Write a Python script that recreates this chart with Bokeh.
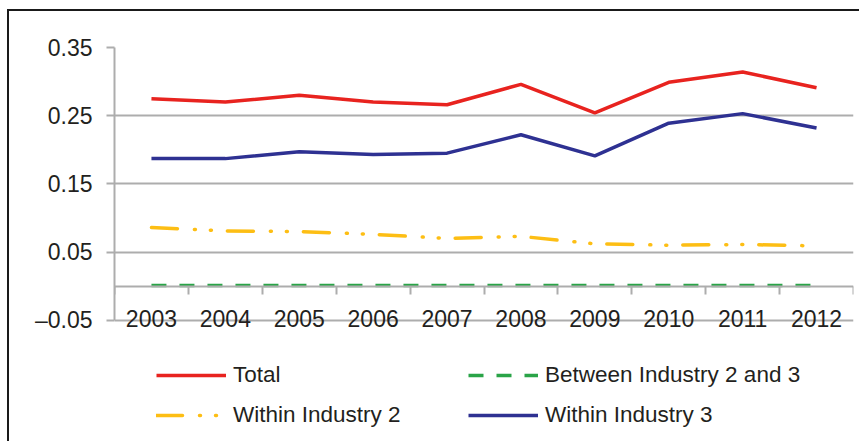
from bokeh.plotting import figure
from bokeh.models import (Range1d, LinearAxis, FixedTicker, Legend, LegendItem)
from bokeh.embed import file_html
from bokeh.resources import INLINE

years = [2003, 2004, 2005, 2006, 2007, 2008, 2009, 2010, 2011, 2012]
total = [0.275, 0.270, 0.280, 0.270, 0.266, 0.296, 0.254, 0.299, 0.314, 0.291]
between = [0.001, 0.001, 0.001, 0.001, 0.001, 0.001, 0.001, 0.001, 0.001, 0.001]
within2 = [0.086, 0.081, 0.080, 0.076, 0.070, 0.073, 0.062, 0.060, 0.061, 0.059]
within3 = [0.187, 0.187, 0.197, 0.193, 0.195, 0.222, 0.191, 0.239, 0.253, 0.232]
y_ticks = [-0.05, 0.05, 0.15, 0.25, 0.35]
y_labels = ["\u20130.05", "0.05", "0.15", "0.25", "0.35"]

FONT = "Liberation Sans"
TXT = "#231F20"
GRID = "#ADADAD"

# plot area extends below the axis so the legend lives inside the frame
PX_PER_UNIT = 680.0
EXTRA_BELOW = 123 / PX_PER_UNIT

p = figure(width=852, height=432, output_backend="svg", toolbar_location=None,
           x_axis_location=None,
           x_range=Range1d(years[0] - 0.5, years[-1] + 0.5),
           y_range=Range1d(y_ticks[0] - EXTRA_BELOW, y_ticks[-1]),
           min_border_left=105, min_border_right=8, min_border_top=36,
           min_border_bottom=0)
p.styles = {"border-top": "2px solid #1a1a1a", "border-left": "2px solid #1a1a1a",
            "margin-left": "7px", "margin-top": "9px"}
p.outline_line_color = None
p.background_fill_color = "white"
p.border_fill_color = "white"

yax = p.yaxis[0]
yax.ticker = FixedTicker(ticks=y_ticks)
yax.bounds = (y_ticks[0], y_ticks[-1])
yax.major_label_overrides = {t: l for t, l in zip(y_ticks, y_labels)}
yax.axis_line_color = GRID
yax.axis_line_width = 2
yax.major_tick_line_color = GRID
yax.major_tick_line_width = 2
yax.major_tick_out = 8
yax.major_tick_in = 0
yax.minor_tick_line_color = None
yax.major_label_text_font = FONT
yax.major_label_text_font_size = "23px"
yax.major_label_text_color = TXT
yax.major_label_standoff = 14

p.xgrid.visible = False
p.ygrid.ticker = FixedTicker(ticks=y_ticks)
p.ygrid.grid_line_color = GRID
p.ygrid.grid_line_width = 2

# x axis line at zero with ticks between categories
bounds = [y - 0.5 for y in years] + [years[-1] + 0.5]
ax0 = LinearAxis(fixed_location=0, ticker=FixedTicker(ticks=bounds))
ax0.axis_line_color = GRID
ax0.axis_line_width = 2
ax0.major_tick_line_color = GRID
ax0.major_tick_line_width = 2
ax0.major_tick_out = 8
ax0.major_tick_in = 0
ax0.minor_tick_line_color = None
ax0.major_label_text_alpha = 0
p.add_layout(ax0, "below")

# year labels
axl = LinearAxis(fixed_location=-0.0345, ticker=FixedTicker(ticks=years))
axl.axis_line_color = None
axl.major_tick_line_color = None
axl.major_tick_out = 0
axl.major_tick_in = 0
axl.minor_tick_line_color = None
axl.major_label_standoff = 0
axl.major_label_text_font = FONT
axl.major_label_text_font_size = "23px"
axl.major_label_text_color = TXT
axl.major_label_overrides = {y: str(y) for y in years}
p.add_layout(axl, "below")

LW = 3.5
r_total = p.line(years, total, line_color="#E8231F", line_width=LW)
r_between = p.line(years, between, line_color="#2AA448", line_width=LW, line_dash="15 13")
r_w2 = p.line(years, within2, line_color="#FDBE14", line_width=LW,
              line_dash="26 17 1 15 1 16", line_cap="round")
r_w3 = p.line(years, within3, line_color="#2E3192", line_width=LW)

def make_legend(items, x):
    lg = Legend(items=items, location=(x, 15), orientation="vertical")
    lg.background_fill_alpha = 0
    lg.border_line_color = None
    lg.padding = 0
    lg.margin = 0
    lg.spacing = 14
    lg.glyph_width = 70
    lg.glyph_height = 20
    lg.label_standoff = 7
    lg.label_text_font = FONT
    lg.label_text_font_size = "22.5px"
    lg.label_text_color = TXT
    return lg

p.add_layout(make_legend([LegendItem(label="Total", renderers=[r_total]),
                          LegendItem(label="Within Industry 2", renderers=[r_w2])], 42), "center")
p.add_layout(make_legend([LegendItem(label="Between Industry 2 and 3", renderers=[r_between]),
                          LegendItem(label="Within Industry 3", renderers=[r_w3])], 354), "center")

open("out.html", "w").write(file_html(p, INLINE))
